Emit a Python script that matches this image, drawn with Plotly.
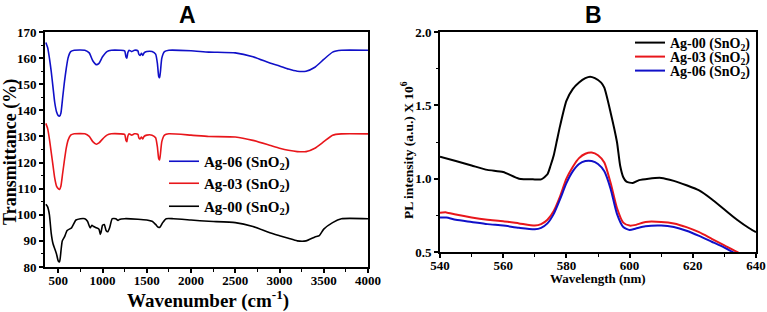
import plotly.graph_objects as go

# ---------------- Panel A: FTIR ----------------
wn_ag06 = [360, 380, 400, 420, 440, 460, 480, 500, 515, 530, 550, 570, 590, 610, 640, 680, 800, 850, 890, 930, 960, 1000, 1050, 1100, 1200, 1250, 1265, 1275, 1285, 1300, 1330, 1360, 1400, 1410, 1425, 1440, 1455, 1470, 1500, 1560, 1600, 1620, 1635, 1645, 1655, 1670, 1700, 1750, 2000, 2200, 2500, 2700, 2900, 3000, 3100, 3200, 3300, 3400, 3500, 3600, 3700, 4000]
t_ag06 = [166, 164, 160, 155, 149, 143, 139.5, 138, 137.8, 139, 145, 151, 156, 160, 162.5, 163, 163, 162, 159, 157.5, 158, 160.5, 162.5, 163, 163, 162.8, 160.5, 160, 162, 163, 162.5, 163, 162.8, 161.5, 161, 161.8, 161, 162, 162.5, 162.5, 161.5, 158, 153, 152.5, 155, 160, 162.5, 163, 162.8, 162.3, 162, 160.5, 158, 157, 155.8, 155, 155, 156.5, 159.5, 162.3, 163, 163]

wn_ag03 = [360, 380, 400, 420, 440, 460, 480, 500, 515, 530, 550, 570, 590, 610, 640, 680, 800, 850, 890, 930, 960, 1000, 1050, 1100, 1200, 1250, 1265, 1275, 1285, 1300, 1330, 1360, 1400, 1410, 1425, 1440, 1455, 1470, 1500, 1560, 1600, 1620, 1635, 1645, 1655, 1670, 1700, 1750, 2000, 2200, 2500, 2700, 2900, 3000, 3100, 3200, 3300, 3400, 3500, 3600, 3700, 4000]
t_ag03 = [135, 133, 129, 124, 119, 114, 111, 110, 109.7, 111, 116, 121, 125.5, 128.5, 130.5, 131, 131, 130, 128, 127, 127.5, 129, 130.5, 131, 131, 130.8, 128.5, 128, 130, 131, 130.5, 131, 130.8, 129.5, 129, 129.8, 129, 130, 130.5, 130.5, 129.5, 126, 121.5, 121, 123.5, 128, 130.5, 131, 130.5, 130, 129.8, 128.5, 126.5, 125.5, 124.7, 124.2, 124.2, 125.5, 128, 130.5, 131, 131]

wn_ag00 = [360, 380, 400, 420, 440, 460, 480, 500, 515, 530, 545, 570, 600, 650, 700, 750, 800, 830, 860, 880, 900, 930, 960, 975, 985, 1000, 1020, 1040, 1060, 1080, 1110, 1150, 1175, 1190, 1250, 1400, 1500, 1560, 1600, 1630, 1650, 1680, 1720, 1800, 2000, 2200, 2500, 2700, 2900, 3000, 3100, 3200, 3300, 3400, 3450, 3500, 3600, 3700, 4000]
t_ag00 = [104, 103, 100, 93, 89, 87, 85, 82.3, 82, 86, 90, 91.5, 94, 95, 98, 98.5, 98.5, 97.5, 95, 96, 95.5, 95, 94.5, 92.5, 93.5, 96, 96.3, 94, 93.5, 95, 98.5, 98.5, 97.8, 98.2, 98.5, 98.3, 98, 97.5, 96.3, 95.2, 95.3, 97, 98.5, 98.5, 98, 97.5, 97, 95.5, 93, 92, 91, 90, 90, 91.5, 92, 94.5, 97, 98.5, 98.5]

a_xticks = [500, 1000, 1500, 2000, 2500, 3000, 3500, 4000]
a_yticks = [80, 90, 100, 110, 120, 130, 140, 150, 160, 170]

# ---------------- Panel B: PL ----------------
wl_ag00 = [540, 545, 550, 555, 560, 565, 570, 572, 574, 575, 576, 577, 578, 580, 582, 584, 586, 587.5, 589, 591, 592, 594, 596, 597, 598, 599, 601, 603, 606, 610, 614, 618, 622, 626, 630, 634, 638, 640]
pl_ag00 = [1.15, 1.12, 1.09, 1.06, 1.045, 1.0, 0.995, 0.995, 1.03, 1.09, 1.16, 1.26, 1.36, 1.53, 1.61, 1.655, 1.685, 1.695, 1.685, 1.655, 1.62, 1.45, 1.25, 1.09, 1.01, 0.98, 0.97, 0.99, 1.0, 1.005, 0.985, 0.955, 0.92, 0.86, 0.79, 0.72, 0.66, 0.635]

wl_ag03 = [540, 542, 545, 550, 555, 560, 565, 570, 572, 574, 576, 578, 580, 582, 584, 586, 588, 590, 592, 594, 596, 598, 600, 602, 605, 610, 614, 618, 622, 626, 630, 634, 636]
pl_ag03 = [0.768, 0.77, 0.755, 0.735, 0.72, 0.71, 0.695, 0.68, 0.69, 0.72, 0.78, 0.88, 1.0, 1.08, 1.14, 1.17, 1.178, 1.16, 1.11, 0.97, 0.8, 0.7, 0.68, 0.685, 0.705, 0.705, 0.695, 0.67, 0.635, 0.59, 0.545, 0.5, 0.48]

wl_ag06 = [540, 542, 545, 550, 555, 560, 565, 570, 572, 574, 576, 578, 580, 582, 584, 586, 588, 590, 592, 594, 596, 598, 600, 602, 605, 610, 614, 618, 622, 626, 630, 633, 636]
pl_ag06 = [0.735, 0.735, 0.72, 0.705, 0.69, 0.68, 0.665, 0.655, 0.665, 0.695, 0.76, 0.86, 0.97, 1.05, 1.1, 1.12, 1.12, 1.1, 1.05, 0.93, 0.76, 0.67, 0.65, 0.66, 0.675, 0.68, 0.67, 0.645, 0.61, 0.57, 0.53, 0.495, 0.46]

b_xticks = [540, 560, 580, 600, 620, 640]
b_yticks = [0.5, 1.0, 1.5, 2.0]
b_yticklabels = ["0.5", "1.0", "1.5", "2.0"]

names = ["Ag-06 (SnO<sub>2</sub>)", "Ag-03 (SnO<sub>2</sub>)", "Ag-00 (SnO<sub>2</sub>)"]
BLUE, RED, BLACK = "#1010c8", "#e8161b", "#000000"

SERIF = "Liberation Serif"
W, H = 767, 312


def bold(v):
    return "<b>%s</b>" % v


def px_x(p):
    return p / W


def px_y(p):
    return 1 - p / H


fig = go.Figure()

# Panel A traces, each in its own one-entry legend (Ag-06, Ag-03, Ag-00 top to bottom)
a_leg_tops = [145, 167, 190]
for i, (x, y, c, n) in enumerate([(wn_ag06, t_ag06, BLUE, names[0]),
                                  (wn_ag03, t_ag03, RED, names[1]),
                                  (wn_ag00, t_ag00, BLACK, names[2])]):
    fig.add_trace(go.Scatter(x=x, y=y, mode="lines", name=bold(n),
                             line=dict(color=c, width=1.6, shape="spline", smoothing=0.5),
                             xaxis="x", yaxis="y", legend="legend" if i == 0 else "legend%d" % (i + 1)))

# Panel B traces (Ag-00, Ag-03, Ag-06 top to bottom)
b_leg_tops = [27, 41, 55]
for i, (x, y, c, n) in enumerate([(wl_ag00, pl_ag00, BLACK, names[2]),
                                  (wl_ag03, pl_ag03, RED, names[1]),
                                  (wl_ag06, pl_ag06, BLUE, names[0])]):
    fig.add_trace(go.Scatter(x=x, y=y, mode="lines", name=bold(n),
                             line=dict(color=c, width=2.0, shape="spline", smoothing=0.6),
                             xaxis="x2", yaxis="y2", legend="legend%d" % (i + 4)))

tickfont = dict(family=SERIF, size=13, color="black")
axis_common = dict(showline=True, linecolor="black", linewidth=2, mirror=True,
                   ticks="outside", ticklen=4, tickwidth=1.5, tickcolor="black",
                   showgrid=False, zeroline=False, automargin=False, tickfont=tickfont)
minor_common = dict(ticks="outside", ticklen=2.5, tickcolor="black", tickwidth=1)

legends = {}
for i, top in enumerate(a_leg_tops):
    key = "legend" if i == 0 else "legend%d" % (i + 1)
    legends[key] = dict(x=px_x(164), y=px_y(top), xanchor="left", yanchor="top",
                        bgcolor="rgba(0,0,0,0)", borderwidth=0,
                        font=dict(family=SERIF, size=15, color="black"))
for i, top in enumerate(b_leg_tops):
    legends["legend%d" % (i + 4)] = dict(x=px_x(630), y=px_y(top), xanchor="left", yanchor="top",
                                         bgcolor="rgba(0,0,0,0)", borderwidth=0,
                                         font=dict(family=SERIF, size=14, color="black"))

fig.update_layout(
    template="none",
    width=W, height=H,
    margin=dict(l=0, r=0, t=0, b=0, pad=0),
    paper_bgcolor="white", plot_bgcolor="white",
    font=dict(family=SERIF, color="black"),
    xaxis=dict(domain=[px_x(45), px_x(368)], range=[350, 4000],
               tickvals=a_xticks, ticktext=[bold(v) for v in a_xticks], anchor="y",
               ticklabelstandoff=-4,
               minor=dict(dtick=250, **minor_common), **axis_common),
    yaxis=dict(domain=[px_y(267), px_y(32)], range=[80, 170],
               tickvals=a_yticks, ticktext=[bold(v) for v in a_yticks], anchor="x",
               minor=dict(dtick=5, **minor_common), **axis_common),
    xaxis2=dict(domain=[px_x(440), px_x(756)], range=[540, 640],
                tickvals=b_xticks, ticktext=[bold(v) for v in b_xticks], anchor="y2",
                ticklabelstandoff=-4,
                minor=dict(dtick=10, **minor_common), **axis_common),
    yaxis2=dict(domain=[px_y(252), px_y(32)], range=[0.5, 2.0],
                tickvals=b_yticks, ticktext=[bold(v) for v in b_yticklabels], anchor="x2",
                minor=dict(dtick=0.25, **minor_common), **axis_common),
    showlegend=True,
    **legends,
)

annots = [
    dict(text="<b>A</b>", x=px_x(187), y=px_y(15), font=dict(family="Liberation Sans", size=23, color="black")),
    dict(text="<b>B</b>", x=px_x(593), y=px_y(15), font=dict(family="Liberation Sans", size=23, color="black")),
    dict(text="<b>Transmittance (%)</b>", x=px_x(10), y=px_y(152), textangle=-90,
         font=dict(family=SERIF, size=18, color="black")),
    dict(text="<b>Wavenumber (cm<sup>-1</sup>)</b>", x=px_x(208), y=px_y(299),
         font=dict(family=SERIF, size=19, color="black")),
    dict(text="<b>PL intensity (a.u.) X 10<sup>6</sup></b>", x=px_x(407), y=px_y(150), textangle=-90,
         font=dict(family=SERIF, size=13.5, color="black")),
    dict(text="<b>Wavelength (nm)</b>", x=px_x(598), y=px_y(278),
         font=dict(family=SERIF, size=13, color="black")),
]
for a in annots:
    fig.add_annotation(xref="paper", yref="paper", showarrow=False,
                       xanchor="center", yanchor="middle", **a)

fig.write_html("out.html", config={"displayModeBar": False},
               post_script="document.body.style.margin='0';document.body.style.overflow='hidden';")
